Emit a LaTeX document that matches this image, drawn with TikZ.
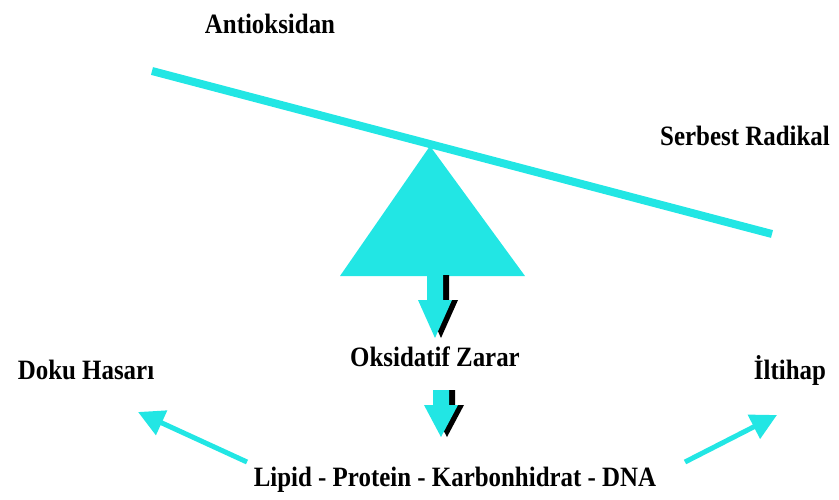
\documentclass[tikz,border=0pt]{standalone}
\usepackage{fontspec}
\setmainfont{Liberation Serif}
\newfontfamily\lblfont[FakeStretch=0.89]{Liberation Serif}
\usetikzlibrary{arrows.meta}
\definecolor{tosca}{RGB}{34,230,228}
\tikzset{lbl/.style={font=\lblfont\bfseries\fontsize{28}{31}\selectfont,anchor=base,inner sep=0pt}}

\begin{document}
\begin{tikzpicture}[x=1pt,y=-1pt]
\useasboundingbox (0,0) rectangle (839,499);
% seesaw
\draw[tosca,line width=8pt] (152,71) to (772,234);
\fill[tosca] (430,146) -- (525,276) -- (340,276) -- cycle;

\node[lbl] (anti) at (270,33) {Antioksidan};
\node[lbl] (radikal) at (745,145) {Serbest Radikal};
\node[lbl] (zarar) at (435,366) {Oksidatif Zarar};
\node[lbl] (doku) at (86,379) {Doku Hasarı};
\node[lbl] (iltihap) at (790,379) {İltihap};
\node[lbl] (lipid) at (455,486) {Lipid - Protein - Karbonhidrat - DNA};

% block arrows
\foreach \x/\y/\s/\h in {435/275/25/38,441/390/15/32}{
	\begin{scope}[shift={(\x,\y)}]
		\fill[black] (-2,0) -- (14,0) -- (14,\s) -- (23,\s) -- (6,\s+\h) -- (-11,\s) -- (-2,\s) -- cycle;
		\fill[tosca] (-8,0) -- (8,0) -- (8,\s) -- (17,\s) -- (0,\s+\h) -- (-17,\s) -- (-8,\s) -- cycle;
	\end{scope}
}

\coordinate (lfrom) at (247,462);
\coordinate (rfrom) at (685,462);
\draw[tosca,line width=5pt,-{Triangle[length=26pt,width=26pt]}] (lfrom) to ([shift={(52,33)}]doku.base);
\draw[tosca,line width=5pt,-{Triangle[length=26pt,width=26pt]}] (rfrom) to ([shift={(-13,36)}]iltihap.base);
\end{tikzpicture}
\end{document}
